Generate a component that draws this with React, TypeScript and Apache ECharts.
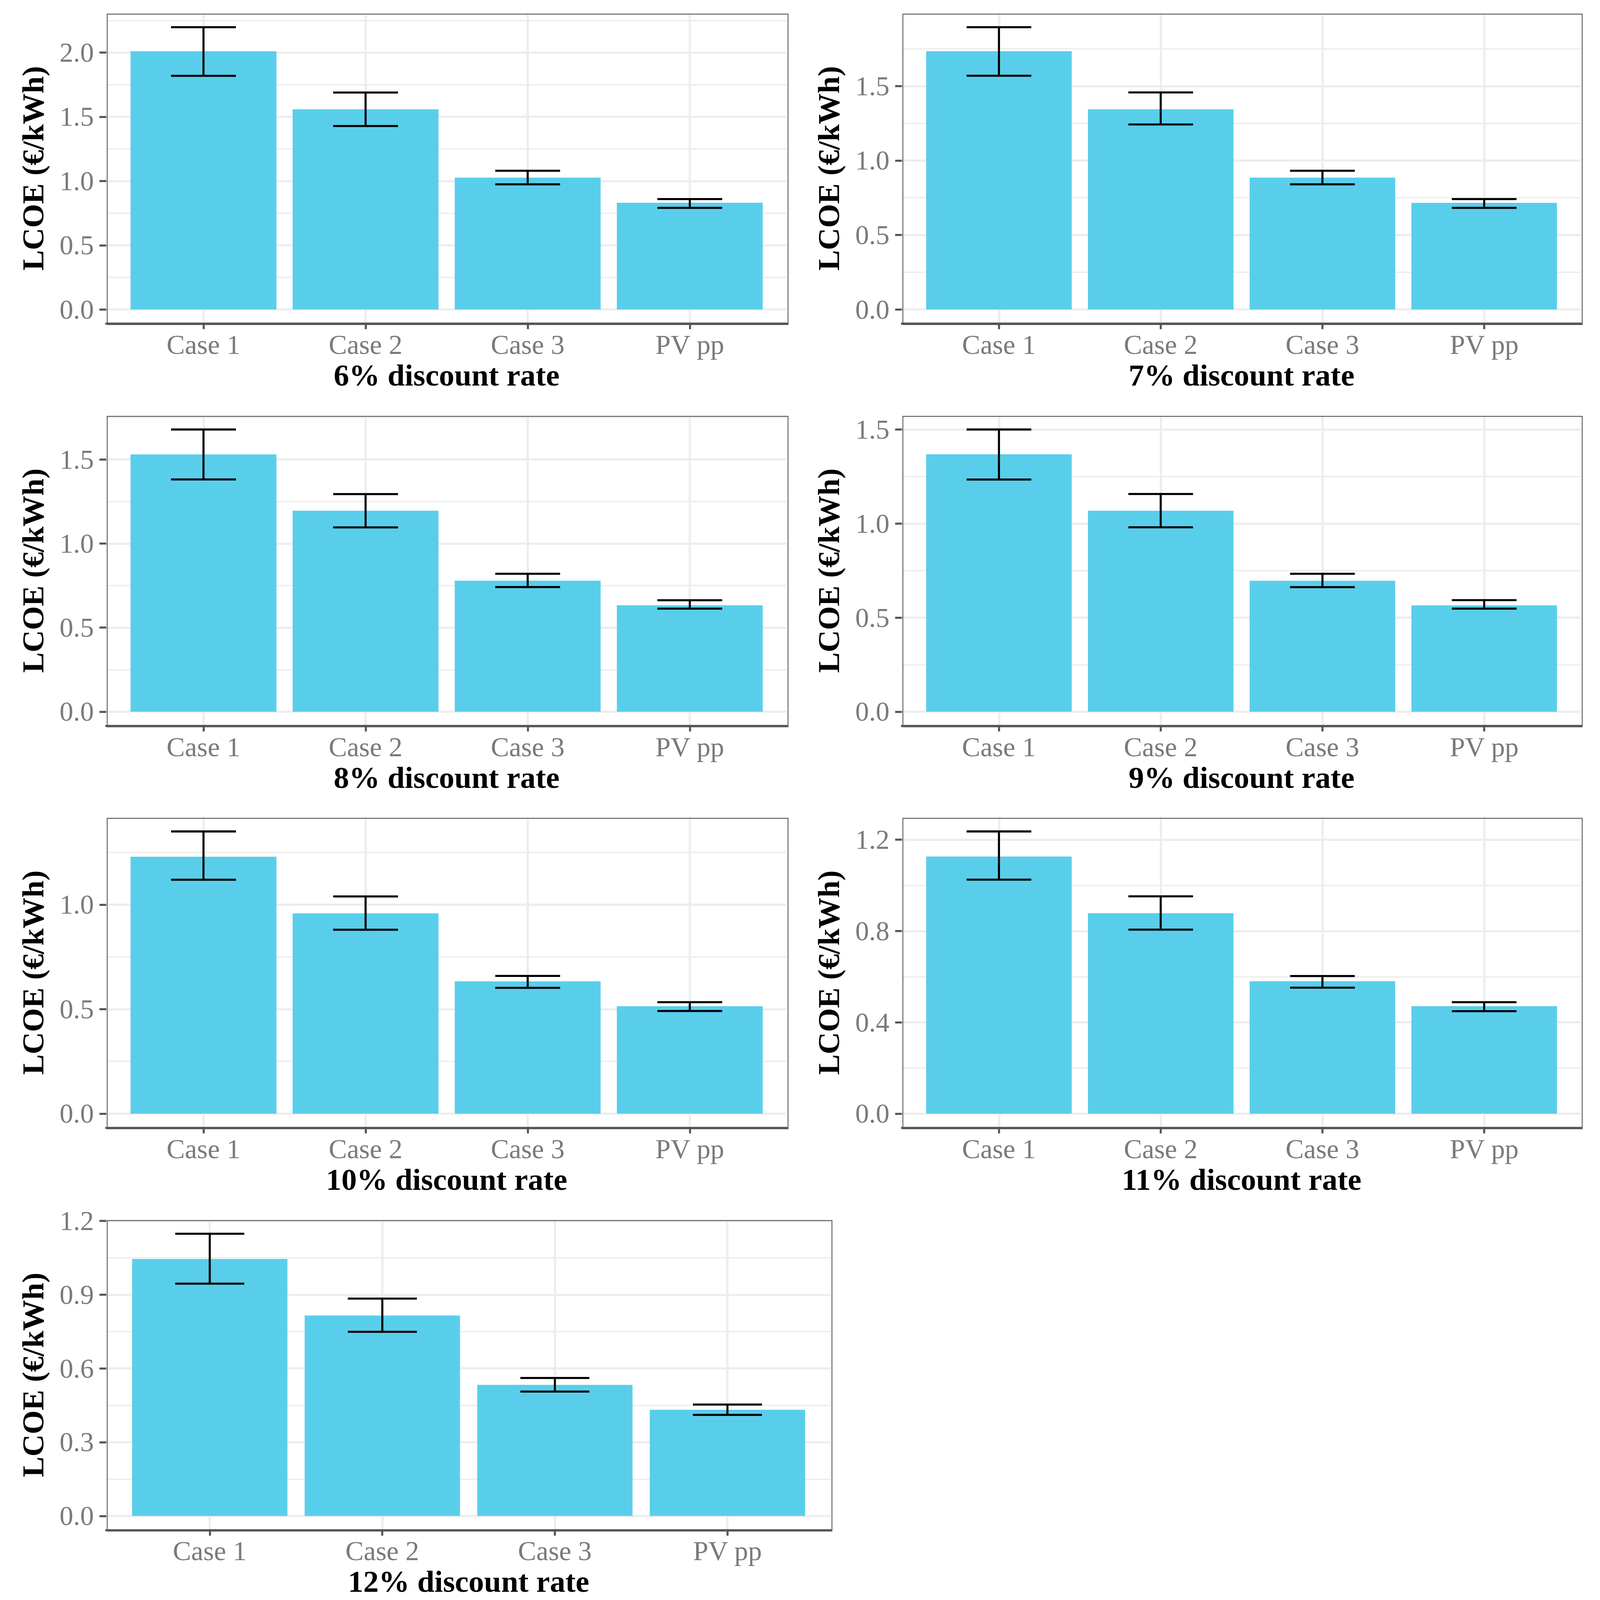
import React, { useEffect, useRef } from "react";
import * as echarts from "echarts";

const categories = ["Case 1", "Case 2", "Case 3", "PV pp"];
const rates = ["6%", "7%", "8%", "9%", "10%", "11%", "12%"];

const lcoe6 = [2.01, 1.558, 1.026, 0.831];
const low6 = [1.819, 1.428, 0.974, 0.791];
const high6 = [2.197, 1.689, 1.08, 0.859];

const lcoe7 = [1.734, 1.344, 0.885, 0.716];
const low7 = [1.569, 1.242, 0.84, 0.682];
const high7 = [1.895, 1.457, 0.931, 0.741];

const lcoe8 = [1.53, 1.195, 0.779, 0.633];
const low8 = [1.381, 1.096, 0.741, 0.613];
const high8 = [1.678, 1.294, 0.82, 0.663];

const lcoe9 = [1.368, 1.068, 0.696, 0.565];
const low9 = [1.234, 0.98, 0.662, 0.548];
const high9 = [1.5, 1.157, 0.733, 0.593];

const lcoe10 = [1.229, 0.958, 0.633, 0.514];
const low10 = [1.119, 0.88, 0.602, 0.491];
const high10 = [1.35, 1.039, 0.659, 0.533];

const lcoe11 = [1.126, 0.878, 0.58, 0.471];
const low11 = [1.025, 0.806, 0.552, 0.449];
const high11 = [1.236, 0.952, 0.603, 0.488];

const lcoe12 = [1.045, 0.815, 0.533, 0.432];
const low12 = [0.945, 0.749, 0.506, 0.411];
const high12 = [1.148, 0.884, 0.561, 0.453];

const ticks6 = [0, 0.5, 1.0, 1.5, 2.0];
const minor6 = [0.25, 0.75, 1.25, 1.75, 2.25];
const ticks7 = [0, 0.5, 1.0, 1.5];
const minor7 = [0.25, 0.75, 1.25, 1.75];
const ticks8 = [0, 0.5, 1.0, 1.5];
const minor8 = [0.25, 0.75, 1.25, 1.75];
const ticks9 = [0, 0.5, 1.0, 1.5];
const minor9 = [0.25, 0.75, 1.25];
const ticks10 = [0, 0.5, 1.0];
const minor10 = [0.25, 0.75, 1.25];
const ticks11 = [0, 0.4, 0.8, 1.2];
const minor11 = [0.2, 0.6, 1.0];
const ticks12 = [0, 0.3, 0.6, 0.9, 1.2];
const minor12 = [0.15, 0.45, 0.75, 1.05];

const panels = [
  { lcoe: lcoe6, low: low6, high: high6, ticks: ticks6, minor: minor6 },
  { lcoe: lcoe7, low: low7, high: high7, ticks: ticks7, minor: minor7 },
  { lcoe: lcoe8, low: low8, high: high8, ticks: ticks8, minor: minor8 },
  { lcoe: lcoe9, low: low9, high: high9, ticks: ticks9, minor: minor9 },
  { lcoe: lcoe10, low: low10, high: high10, ticks: ticks10, minor: minor10 },
  { lcoe: lcoe11, low: low11, high: high11, ticks: ticks11, minor: minor11 },
  { lcoe: lcoe12, low: low12, high: high12, ticks: ticks12, minor: minor12 },
];

// layout (pixels, at the nominal 4263 x 5123 size)
const W = 4263;
const H = 5123;
const rowTops = [42, 1330, 2617, 3905];
const panelH = 994;
const layout = [
  { left: 283, width: 1814, row: 0 },
  { left: 2403, width: 1810, row: 0 },
  { left: 283, width: 1814, row: 1 },
  { left: 2403, width: 1810, row: 1 },
  { left: 283, width: 1814, row: 2 },
  { left: 2403, width: 1810, row: 2 },
  { left: 283, width: 1931, row: 3 },
];

const FONT = "'Liberation Serif', 'Times New Roman', serif";
const BAR = "#59CEEB";
const GRID = "#EDEDED";
const AXIS = "#555555";
const LABEL = "#7A7A7A";

export default function App() {
  const ref = useRef<HTMLDivElement>(null);
  useEffect(() => {
    document.body.style.margin = "0";
    if (!ref.current) return;
    const vw = window.innerWidth || W;
    const vh = window.innerHeight || H;
    const sx = Math.min(1, vw / W);
    const sy = Math.min(1, vh / H);
    const sf = Math.sqrt(sx * sy);
    const cw = Math.round(W * sx);
    const ch = Math.round(H * sy);
    ref.current.style.width = cw + "px";
    ref.current.style.height = ch + "px";
    const X = (v: number) => v * sx;
    const Y = (v: number) => v * sy;
    const F = (v: number) => v * sf;
    const chart = echarts.init(ref.current, null, { renderer: "svg", width: cw, height: ch });

    const grids = layout.map((l) => ({
      left: X(l.left),
      top: Y(rowTops[l.row]),
      width: X(l.width),
      height: Y(panelH),
      show: true,
      backgroundColor: "#ffffff",
      borderWidth: 0,
      containLabel: false,
      outerBoundsMode: "none",
    }));

    const titleStyle = { fontSize: F(90), fontWeight: "bold", color: "#000", fontFamily: FONT, lineHeight: F(90) };

    const xAxes = panels.map((p, i) => ({
      type: "value",
      gridIndex: i,
      min: 0.4,
      max: 4.6,
      axisLine: { show: true, onZero: false, lineStyle: { color: AXIS, width: F(6) } },
      axisTick: { show: true, customValues: [1, 2, 3, 4], length: Y(18), lineStyle: { color: AXIS, width: F(6) } },
      axisLabel: {
        customValues: [1, 2, 3, 4],
        formatter: (v: number) => categories[Math.round(v) - 1],
        fontSize: F(80),
        lineHeight: F(80),
        color: LABEL,
        margin: Y(97) - F(67),
        fontFamily: FONT,
      },
      splitLine: { show: true, lineStyle: { color: GRID, width: F(6.5) } },
      name: rates[i] + " discount rate",
      nameLocation: "middle",
      nameGap: Y(199) - F(76),
      nameTextStyle: titleStyle,
    }));

    const yRange = panels.map((p) => {
      const m = Math.max(...p.high);
      return { min: -0.05 * m, max: 1.05 * m };
    });

    const yMajor = panels.map((p, i) => ({
      type: "value",
      gridIndex: i,
      min: yRange[i].min,
      max: yRange[i].max,
      axisLine: { show: false },
      axisTick: { show: true, customValues: p.ticks, length: X(18), lineStyle: { color: AXIS, width: F(6) } },
      axisLabel: {
        customValues: p.ticks,
        formatter: (v: number) => v.toFixed(1),
        fontSize: F(80),
        color: LABEL,
        margin: X(33),
        fontFamily: FONT,
      },
      splitLine: { show: true, lineStyle: { color: GRID, width: F(6.5) } },
      name: "LCOE (€/kWh)",
      nameLocation: "middle",
      nameGap: X(195) - F(45),
      nameTextStyle: titleStyle,
    }));

    const yMinor = panels.map((p, i) => ({
      type: "value",
      gridIndex: i,
      position: "left",
      min: yRange[i].min,
      max: yRange[i].max,
      axisLine: { show: false },
      axisTick: { show: false, customValues: p.minor },
      axisLabel: { show: false, customValues: p.minor },
      splitLine: { show: true, lineStyle: { color: GRID, width: F(4) } },
    }));

    const series: any[] = [];
    panels.forEach((p, i) => {
      series.push({
        type: "bar",
        xAxisIndex: i,
        yAxisIndex: i,
        data: p.lcoe.map((v, j) => [j + 1, v]),
        barWidth: "90%",
        itemStyle: { color: BAR },
        z: 2,
        silent: true,
      });
      series.push({
        type: "custom",
        xAxisIndex: i,
        yAxisIndex: i,
        z: 5,
        clip: false,
        silent: true,
        encode: { x: 0, y: [1, 2] },
        data: categories.map((c, j) => [j + 1, p.low[j], p.high[j]]),
        renderItem: (params: any, api: any) => {
          const x = api.value(0);
          const lo = api.coord([x, api.value(1)]);
          const hi = api.coord([x, api.value(2)]);
          const hw = api.size([0.4, 0])[0] / 2;
          const style = { stroke: "#000", lineWidth: F(6), lineCap: "butt" };
          return {
            type: "group",
            children: [
              { type: "line", shape: { x1: lo[0], y1: lo[1], x2: hi[0], y2: hi[1] }, style },
              { type: "line", shape: { x1: hi[0] - hw, y1: hi[1], x2: hi[0] + hw, y2: hi[1] }, style },
              { type: "line", shape: { x1: lo[0] - hw, y1: lo[1], x2: lo[0] + hw, y2: lo[1] }, style },
            ],
          };
        },
      });
    });

    const graphics: any[] = layout.map((l) => ({
      type: "rect",
      left: X(l.left),
      top: Y(rowTops[l.row]),
      z: 100,
      silent: true,
      shape: { x: 0, y: 0, width: X(l.width), height: Y(panelH) },
      style: { fill: "none", stroke: AXIS, lineWidth: F(2.5) },
    }));

    chart.setOption({
      animation: false,
      backgroundColor: "#ffffff",
      textStyle: { fontFamily: FONT },
      grid: grids,
      xAxis: xAxes,
      yAxis: [...yMajor, ...yMinor],
      series,
      graphic: graphics,
    });
    return () => chart.dispose();
  }, []);
  return <div ref={ref} style={{ position: "absolute", left: 0, top: 0, width: W, height: H, background: "#fff" }} />;
}
